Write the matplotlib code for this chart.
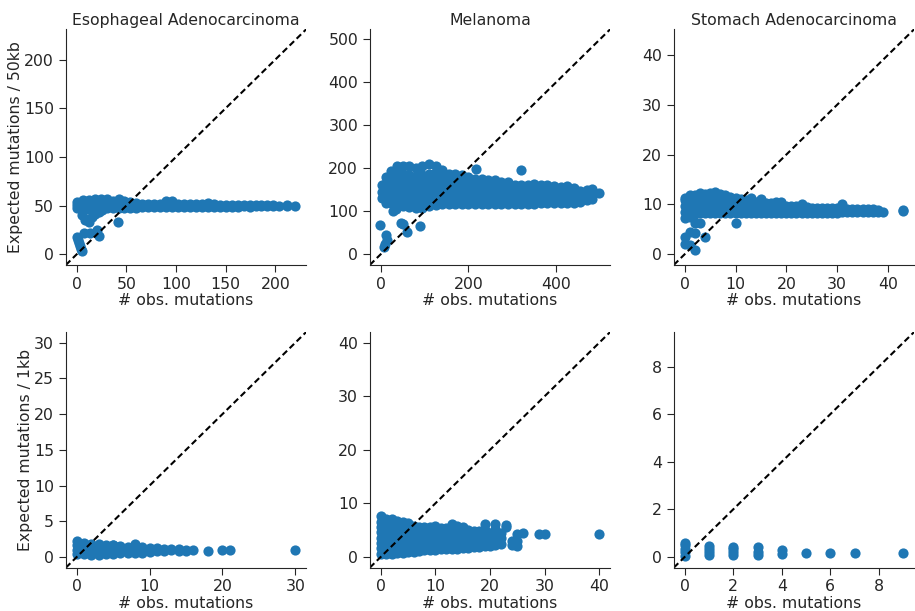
import numpy as np
import matplotlib
matplotlib.use("Agg")
import matplotlib.pyplot as plt
from matplotlib.ticker import MultipleLocator
import seaborn as sns

sns.set_style("ticks")

# ---- Esophageal Adenocarcinoma, 50kb ----
eso50_x = [0, 6, 12, 18, 24, 30, 36, 42, 48, 54, 60, 66, 72, 78, 84, 90, 96, 102,
           108, 114, 120, 126, 132, 138, 144, 150, 156, 162, 168, 174, 180, 186,
           192, 198, 204, 212, 220]
eso50_y = [[47, 51, 54], [46, 50, 54, 56], [46, 50, 54, 56], [46, 50, 54, 57],
           [47, 51, 55, 57], [47, 51, 55, 57], [47, 51, 55], [47, 51, 55, 57],
           [47, 51, 55], [47, 51, 54], [47, 50, 53], [48, 52], [48, 52], [48, 52],
           [48, 52], [48, 52, 55], [48, 52, 55], [48, 52], [48, 52], [48, 52],
           [48, 52], [48, 52], [48, 52, 53], [48, 52], [48, 51], [48, 51], [48, 51],
           [48, 51], [49, 51], [48, 51], [49, 51], [49, 51], [49, 51], [49, 51],
           [50], [50, 51], [50]]
eso50_ox = [5, 8, 10, 12, 15, 18, 22, 25, 0, 1, 2, 3, 4, 5, 7, 13, 20, 22, 41]
eso50_oy = [40, 35, 36, 33, 38, 41, 43, 45, 18, 15, 11, 8, 5, 3, 22, 22, 25, 19, 33]

# ---- Melanoma, 50kb ----
mel50_x = [2, 12, 24, 36, 50, 65, 80, 95, 110, 125, 140, 155, 170, 185, 200, 215,
           230, 245, 260, 275, 290, 305, 320, 335, 350, 365, 380, 395, 410, 425,
           440, 455, 470, 482, 498]
mel50_y = [[130, 145, 160], [120, 135, 150, 165, 180], [118, 133, 148, 163, 178, 193],
           [115, 130, 145, 160, 175, 190, 205], [112, 127, 142, 157, 172, 187, 205],
           [110, 125, 140, 155, 170, 185, 205], [107, 122, 137, 152, 167, 182, 200],
           [108, 123, 138, 153, 168, 183, 205], [112, 127, 142, 157, 172, 187, 210],
           [115, 130, 145, 160, 175, 190, 205], [117, 132, 147, 162, 177, 195],
           [117, 132, 147, 162, 177, 187], [117, 132, 147, 162, 177, 187],
           [117, 132, 147, 162, 177, 185], [117, 132, 147, 162, 180],
           [117, 132, 147, 162, 175], [117, 132, 147, 162, 175],
           [117, 132, 147, 162, 172], [117, 132, 147, 160, 172],
           [117, 132, 147, 160, 168], [117, 132, 147, 160, 168],
           [117, 132, 147, 160], [117, 132, 147, 160], [117, 132, 147, 160],
           [117, 132, 147, 163], [118, 132, 147, 160], [118, 132, 147, 162],
           [118, 132, 147, 158], [120, 133, 147, 157], [120, 133, 147, 158],
           [120, 133, 147, 155], [122, 135, 148], [125, 137, 150], [128, 140, 152],
           [142]]
mel50_ox = [218, 320, -2, 45, 50, 60, 90, 11, 14, 7, 10, 28, 35]
mel50_oy = [198, 195, 67, 72, 70, 51, 66, 44, 33, 17, 24, 101, 106]

# ---- Stomach Adenocarcinoma, 50kb ----
sto50_x = list(range(40)) + [43]
sto50_y = [[7.3, 8.5, 9.7, 10.9, 11.3], [7.4, 8.6, 9.8, 11.0, 11.8], [8.0, 9.2, 10.4, 11.8],
           [8.2, 9.4, 10.6, 12.2], [8.2, 9.4, 10.6, 12.0], [8.2, 9.4, 10.6, 12.3],
           [8.2, 9.4, 10.6, 12.5], [8.3, 9.5, 10.7, 12.0], [8.3, 9.5, 10.7, 11.8],
           [8.3, 9.5, 10.7, 11.5], [8.3, 9.5, 11.2], [8.3, 9.5, 11.0], [8.3, 9.5, 10.8],
           [8.3, 9.6, 11.2], [8.3, 9.5, 10.5], [8.3, 9.6, 11.0], [8.3, 9.4, 10.3],
           [8.3, 9.4, 10.3], [8.3, 9.4, 10.5], [8.3, 9.4, 10.5], [8.3, 9.7],
           [8.3, 9.6], [8.3, 9.6], [8.3, 10.0], [8.3, 9.5], [8.3, 9.3], [8.3, 9.3],
           [8.3, 9.3], [8.3, 9.3], [8.3, 9.3], [8.3, 9.3], [8.4, 10.0], [8.4, 9.1],
           [8.4, 9.1], [8.4, 9.1], [8.4, 9.1], [8.4, 9.1], [8.5, 9.0], [8.5, 8.8],
           [8.5], [8.6, 8.8]]
sto50_ox = [2, 3, 10, 1, 2, 0, 4, 0, 1, 2]
sto50_oy = [6.3, 6.3, 6.2, 4.5, 4.3, 3.5, 3.4, 2.0, 1.8, 0.8]

# ---- Esophageal Adenocarcinoma, 1kb ----
eso1_x = list(range(17)) + [18, 20, 21, 30]
eso1_y = [[0.4, 1.0, 1.6, 2.2], [0.4, 1.0, 1.6, 1.9], [0.3, 0.9, 1.5, 1.8],
          [0.3, 0.9, 1.5, 1.8], [0.4, 1.0, 1.6], [0.4, 1.0, 1.6, 1.7], [0.5, 1.0, 1.5],
          [0.5, 1.0, 1.4], [0.6, 1.2, 1.8], [0.6, 1.1, 1.4], [0.7, 1.2], [0.8, 1.2],
          [0.8, 1.1], [0.9, 1.1], [0.8, 1.1], [0.8, 1.0], [1.0], [0.8], [0.9], [0.9],
          [1.0]]

# ---- Melanoma, 1kb ----
mel1_x = list(range(27)) + [29, 30, 40]
mel1_y = [[0.6, 1.6, 2.6, 3.6, 4.6, 5.6, 6.6, 7.6], [0.6, 1.6, 2.6, 3.6, 4.6, 5.6, 6.6, 7.0],
          [0.6, 1.6, 2.6, 3.6, 4.6, 5.6, 6.6, 7.0], [0.7, 1.7, 2.7, 3.7, 4.7, 5.7, 6.7],
          [0.8, 1.8, 2.8, 3.8, 4.8, 5.8, 6.5], [0.9, 1.9, 2.9, 3.9, 4.9, 5.9, 6.3],
          [1.0, 2.0, 3.0, 4.0, 5.0, 5.8], [1.1, 2.1, 3.1, 4.1, 5.1, 5.5],
          [1.2, 2.2, 3.2, 4.2, 5.2, 5.6], [1.3, 2.3, 3.3, 4.3, 5.3, 5.5],
          [1.3, 2.3, 3.3, 4.3, 5.3, 5.8], [1.4, 2.4, 3.4, 4.4, 5.4],
          [1.4, 2.4, 3.4, 4.4, 5.4], [1.5, 2.5, 3.5, 4.5, 5.5, 6.2],
          [1.5, 2.5, 3.5, 4.5, 5.5, 5.8], [1.6, 2.6, 3.6, 4.6, 5.5],
          [1.7, 2.7, 3.7, 4.7, 5.0], [1.8, 2.8, 3.8, 4.8], [1.8, 2.8, 3.8, 4.8],
          [2.0, 3.0, 4.0, 5.0, 6.2], [2.0, 3.0, 4.0, 4.5], [2.2, 3.2, 4.2, 5.2, 6.2],
          [2.5, 3.5, 4.5], [5.5, 6.0], [2.3, 3.0], [2.0, 3.0, 4.2], [4.5], [4.3],
          [4.2], [4.2]]

# ---- Stomach Adenocarcinoma, 1kb ----
sto1_x = [0, 1, 2, 3, 4, 5, 6, 7, 9]
sto1_y = [[0.05, 0.2, 0.35, 0.5, 0.6], [0.07, 0.2, 0.35, 0.47], [0.08, 0.2, 0.32, 0.43],
          [0.1, 0.22, 0.4], [0.12, 0.29], [0.15], [0.15], [0.16], [0.18]]

titles = ["Esophageal Adenocarcinoma", "Melanoma", "Stomach Adenocarcinoma"]
ylabels = ["Expected mutations / 50kb", "Expected mutations / 1kb"]


def flatten(cols_x, cols_y, ox=(), oy=()):
    xs = [x for x, ys in zip(cols_x, cols_y) for _ in ys] + list(ox)
    ys = [y for ys in cols_y for y in ys] + list(oy)
    return np.array(xs, dtype=float), np.array(ys, dtype=float)


panels = [
    [flatten(eso50_x, eso50_y, eso50_ox, eso50_oy), (50, 50)],
    [flatten(mel50_x, mel50_y, mel50_ox, mel50_oy), (200, 100)],
    [flatten(sto50_x, sto50_y, sto50_ox, sto50_oy), (10, 10)],
    [flatten(eso1_x, eso1_y), (10, 5)],
    [flatten(mel1_x, mel1_y), (10, 10)],
    [flatten(sto1_x, sto1_y), (2, 2)],
]

fig, axes = plt.subplots(2, 3, figsize=(9.15, 6.11), dpi=100)
plt.subplots_adjust(left=0.072, right=0.999, top=0.952, bottom=0.071,
                    wspace=0.265, hspace=0.285)

txt = "#262626"
for i, ((xs, ys), (xstep, ystep)) in enumerate(panels):
    ax = axes.flat[i]
    ax.scatter(xs, ys, s=54, color="#1f77b4", linewidths=0)
    m = max(xs.max(), ys.max())
    lo, hi = -0.05 * m, 1.05 * m
    ax.plot([lo, hi], [lo, hi], color="black", linestyle=(0, (3, 1.7)), linewidth=1.5)
    ax.set_xlim(lo, hi)
    ax.set_ylim(lo, hi)
    ax.xaxis.set_major_locator(MultipleLocator(xstep))
    ax.yaxis.set_major_locator(MultipleLocator(ystep))
    ax.tick_params(labelsize=11.3, length=5, colors=txt)
    ax.set_xlabel("# obs. mutations", fontsize=11.3, color=txt, labelpad=1)
    if i < 3:
        ax.set_title(titles[i], fontsize=11.3, color=txt, pad=3)
    if i % 3 == 0:
        ax.set_ylabel(ylabels[i // 3], fontsize=11.3, color=txt, labelpad=1)

sns.despine(fig)
plt.savefig("out.png", dpi=100)
